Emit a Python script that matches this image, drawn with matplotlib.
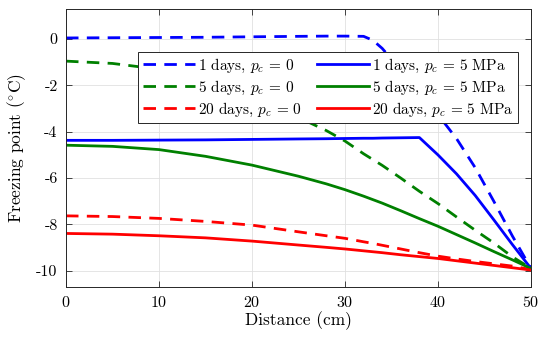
import numpy as np
import matplotlib
matplotlib.use("Agg")
import matplotlib.pyplot as plt

plt.rcParams['font.family'] = 'serif'
plt.rcParams['font.serif'] = ['cmr10']
plt.rcParams['mathtext.fontset'] = 'cm'
plt.rcParams['axes.unicode_minus'] = False
plt.rcParams['axes.formatter.use_mathtext'] = True

# distance along the sample (cm)
dist = [0, 5, 10, 15, 20, 25, 28, 30, 32, 33, 34, 36, 38, 40, 42, 44, 46, 48, 50]

# freezing point (degC), p_c = 0
day1_p0 = [0.05, 0.06, 0.07, 0.08, 0.10, 0.12, 0.13, 0.13, 0.12, -0.05, -0.40,
           -1.33, -2.30, -3.26, -4.30, -5.55, -7.00, -8.50, -9.90]
day5_p0 = [-0.95, -1.05, -1.30, -1.75, -2.40, -3.38, -3.95, -4.40, -4.95, -5.20,
           -5.45, -6.00, -6.57, -7.10, -7.68, -8.25, -8.80, -9.40, -9.90]
day20_p0 = [-7.63, -7.66, -7.74, -7.87, -8.03, -8.32, -8.49, -8.60, -8.75, -8.82,
            -8.90, -9.06, -9.22, -9.37, -9.49, -9.60, -9.70, -9.80, -9.95]

# freezing point (degC), p_c = 5 MPa
day1_p5 = [-4.37, -4.37, -4.36, -4.35, -4.33, -4.31, -4.30, -4.29, -4.28, -4.28,
           -4.27, -4.26, -4.25, -5.00, -5.82, -6.75, -7.80, -8.87, -9.90]
day5_p5 = [-4.58, -4.63, -4.77, -5.06, -5.44, -5.92, -6.25, -6.50, -6.78, -6.93,
           -7.08, -7.41, -7.75, -8.08, -8.44, -8.80, -9.17, -9.53, -9.90]
day20_p5 = [-8.39, -8.42, -8.49, -8.58, -8.72, -8.89, -8.99, -9.06, -9.14, -9.18,
            -9.22, -9.31, -9.39, -9.47, -9.57, -9.67, -9.77, -9.87, -9.97]

days = [1, 5, 20]
colors = ['#0000ff', '#008000', '#ff0000']

fig = plt.figure(figsize=(5.41, 3.40), dpi=100)
ax = fig.add_axes([0.122, 0.156, 0.8595, 0.8175])

for d, c, y in zip(days, colors, [day1_p0, day5_p0, day20_p0]):
    ln, = ax.plot(dist, y, color=c, lw=2.0, label=r'%d days, $p_c\, =\, 0$' % d)
    ln.set_dashes((4.5, 3.0))
for d, c, y in zip(days, colors, [day1_p5, day5_p5, day20_p5]):
    ax.plot(dist, y, color=c, lw=2.0, label=r'%d days, $p_c\, =\, 5$ MPa' % d)

ax.set_xlim(0, 50)
ax.set_ylim(-10.7, 1.3)
ax.set_xticks([0, 10, 20, 30, 40, 50])
ax.set_yticks([0, -2, -4, -6, -8, -10])
ax.set_yticklabels(['0', '-2', '-4', '-6', '-8', '-10'])
ax.tick_params(direction='in', top=True, right=True, labelsize=11.5,
               length=4, width=0.6, color='0.15', pad=6)
for s in ax.spines.values():
    s.set_color('0.15')
    s.set_linewidth(0.7)
ax.grid(True, color='0.88', lw=0.6)
ax.set_axisbelow(True)

ax.set_xlabel('Distance (cm)', fontsize=12.5, labelpad=1)
ax.set_ylabel(r'Freezing point ($^{\circ}$C)', fontsize=12.5, labelpad=6)

leg = ax.legend(ncol=2, loc='upper right', bbox_to_anchor=(0.972, 0.845),
                fontsize=11, handlelength=3.4, columnspacing=1.0,
                labelspacing=0.25, handletextpad=0.2, borderpad=0.3,
                borderaxespad=0, fancybox=False, framealpha=1,
                edgecolor='0.15')
leg.get_frame().set_linewidth(0.7)

fig.savefig('out.png', dpi=100)
